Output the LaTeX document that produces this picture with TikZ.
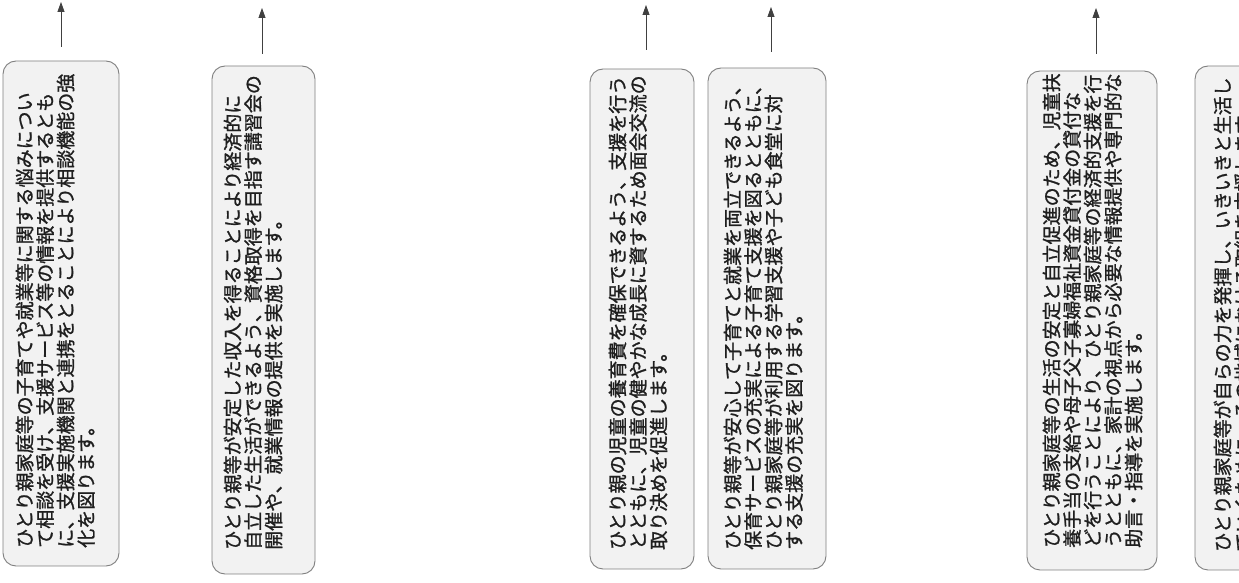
\documentclass[tikz,border=0pt]{standalone}
\usepackage{fontspec}
\newfontfamily\jpfont{Noto Sans CJK JP}[FakeBold=1.2]
\usetikzlibrary{arrows.meta}
\begin{document}
\begin{tikzpicture}[x=1pt,y=1pt,
  boxst/.style={draw=black!50, fill=black!5, rounded corners=13pt, line width=0.9pt, inner sep=0pt},
  txt/.style={rotate=90, anchor=north west, inner sep=0pt, align=left, text=black!88,
    font=\jpfont\fontsize{19}{20.5}\selectfont},
  arr/.style={draw=black!75, line width=0.8pt, -{Triangle[length=10pt,width=7pt]}}]
\useasboundingbox (0,0) rectangle (1239,583);
\fill[white] (0,0) rectangle (1239,583);
\clip (0,0) rectangle (1239,583);

% boxes
\node[boxst, minimum width=116pt, minimum height=505pt] (b1) at (61,269.5) {};
\node[boxst, minimum width=103pt, minimum height=508pt] (b2) at (263.5,263) {};
\node[boxst, minimum width=104pt, minimum height=500pt] (b3) at (642,264) {};
\node[boxst, minimum width=118pt, minimum height=501pt] (b4) at (767,264.5) {};
\node[boxst, minimum width=130pt, minimum height=499pt] (b5) at (1092,262.5) {};
\node[boxst, minimum width=130pt, minimum height=504pt] (b6) at (1260,265) {};

% texts
\node[txt] (t1) at (15.5,35) {ひとり親家庭等の子育てや就業等に関する悩みについ\\て相談を受け、支援サービス等の情報を提供するとも\\に、支援実施機関と連携をとることにより相談機能の強\\化を図ります。};
\node[txt] (t2) at (223.5,33) {ひとり親等が安定した収入を得ることにより経済的に\\自立した生活ができるよう、資格取得を目指す講習会の\\開催や、就業情報の提供を実施します。};
\node[txt] (t3) at (608.5,33) {ひとり親の児童の養育費を確保できるよう、支援を行う\\とともに、児童の健やかな成長に資するため面会交流の\\取り決めを促進します。};
\node[txt] (t4) at (723.5,33) {ひとり親等が安心して子育てと就業を両立できるよう、\\保育サービスの充実による子育て支援を図るとともに、\\ひとり親家庭等が利用する学習支援や子ども食堂に対\\する支援の充実を図ります。};
\node[txt] (t5) at (1042.5,35) {ひとり親家庭等の生活の安定と自立促進のため、児童扶\\養手当の支給や母子父子寡婦福祉資金貸付金の貸付な\\どを行うことにより、ひとり親家庭等の経済的支援を行\\うとともに、家計の視点から必要な情報提供や専門的な\\助言・指導を実施します。};
\node[txt] (t6) at (1213.5,31) {ひとり親家庭等が自らの力を発揮し、いきいきと生活し\\ていくために、その地域における取組を支援します。};

% arrows
\coordinate (a1s) at (61,536);   \coordinate (a1e) at (61,581);
\coordinate (a2s) at (262,529);  \coordinate (a2e) at (262,575);
\coordinate (a3s) at (646,533);  \coordinate (a3e) at (646,578);
\coordinate (a4s) at (771,531);  \coordinate (a4e) at (771,576);
\coordinate (a5s) at (1096,529); \coordinate (a5e) at (1096,575);
\draw[arr] (a1s) -- (a1e);
\draw[arr] (a2s) -- (a2e);
\draw[arr] (a3s) -- (a3e);
\draw[arr] (a4s) -- (a4e);
\draw[arr] (a5s) -- (a5e);
\end{tikzpicture}
\end{document}
